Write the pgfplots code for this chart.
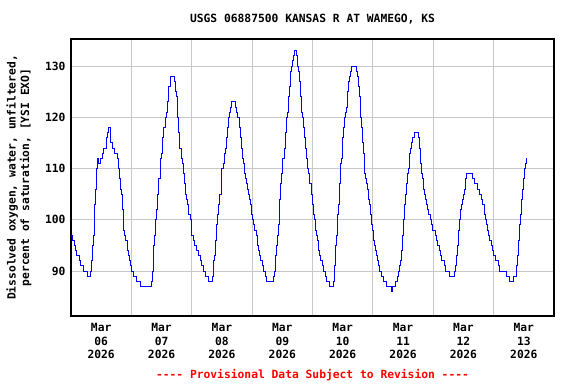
\documentclass[border=0pt]{standalone}
\usepackage{pgfplots}
\pgfplotsset{compat=1.18}
\usepackage{fontspec}
\setmainfont{DejaVu Sans Mono}
\definecolor{usgsblue}{RGB}{0,0,255}
\definecolor{gridgray}{RGB}{200,200,200}
\newcommand{\lbl}{\fontsize{11.3}{13.5}\selectfont\bfseries}
\begin{document}
\begin{tikzpicture}
\begin{axis}[
  name=ax,
  scale only axis,
  width=483pt, height=277pt,
  xmin=0, xmax=8,
  ymin=81.22, ymax=135.27,
  axis line style={black, line width=1.1pt},
  xtick={0.5,1.5,2.5,3.5,4.5,5.5,6.5,7.5},
  xticklabels={{Mar\\06\\2026},{Mar\\07\\2026},{Mar\\08\\2026},{Mar\\09\\2026},{Mar\\10\\2026},{Mar\\11\\2026},{Mar\\12\\2026},{Mar\\13\\2026}},
  minor xtick={1,2,3,4,5,6,7},
  xminorgrids=true,
  xmajorgrids=false,
  ytick={90,100,110,120,130},
  ymajorgrids=true,
  grid style={gridgray, line width=1pt},
  minor grid style={gridgray, line width=1pt},
  major tick length=0pt,
  minor tick length=0pt,
  /pgf/number format/assume math mode=true,
  xticklabel style={align=center, font=\lbl, yshift=-4pt},
  yticklabel style={font=\lbl, xshift=-2pt},
  clip=true,
]
\addplot[const plot, color=usgsblue, line width=1pt] table {
0.000 97
0.017 96
0.050 95
0.072 94
0.094 93
0.138 92
0.160 91
0.199 90
0.271 89
0.326 90
0.337 92
0.354 95
0.376 97
0.392 103
0.409 106
0.425 110
0.436 112
0.459 111
0.492 112
0.514 113
0.536 114
0.591 116
0.608 117
0.624 118
0.646 117
0.657 115
0.691 114
0.713 113
0.768 112
0.785 110
0.801 108
0.823 106
0.834 105
0.851 102
0.867 98
0.890 97
0.906 96
0.928 94
0.945 93
0.967 92
0.983 91
1.000 90
1.033 89
1.077 88
1.144 87
1.331 88
1.348 90
1.370 95
1.387 97
1.403 100
1.420 102
1.436 105
1.453 108
1.475 112
1.492 113
1.514 116
1.536 118
1.558 120
1.575 121
1.591 123
1.608 125
1.619 126
1.641 127
1.652 128
1.718 127
1.729 125
1.740 124
1.762 120
1.785 117
1.801 114
1.823 112
1.845 111
1.862 109
1.884 107
1.901 105
1.917 104
1.934 103
1.950 101
1.972 100
1.989 99
2.000 97
2.022 96
2.045 95
2.078 94
2.111 93
2.150 92
2.167 91
2.201 90
2.223 89
2.279 88
2.345 89
2.357 92
2.373 93
2.390 96
2.412 99
2.429 101
2.446 103
2.462 105
2.485 108
2.501 110
2.518 111
2.535 113
2.552 114
2.568 116
2.585 118
2.607 120
2.624 121
2.641 122
2.652 123
2.724 122
2.741 121
2.763 120
2.785 118
2.802 116
2.819 114
2.836 112
2.852 111
2.869 109
2.886 108
2.902 107
2.919 106
2.936 105
2.958 104
2.975 103
2.992 101
3.014 100
3.031 99
3.047 98
3.070 97
3.086 95
3.103 94
3.120 93
3.136 92
3.170 91
3.192 90
3.214 89
3.242 88
3.359 89
3.376 90
3.393 93
3.409 95
3.426 97
3.443 99
3.459 104
3.476 107
3.493 109
3.510 112
3.532 114
3.549 117
3.571 120
3.588 121
3.604 124
3.621 126
3.638 129
3.655 130
3.671 131
3.688 132
3.705 133
3.733 132
3.749 130
3.766 129
3.783 127
3.799 124
3.816 121
3.833 120
3.850 118
3.866 116
3.883 114
3.900 112
3.916 110
3.933 109
3.950 107
3.983 105
3.994 103
4.011 101
4.033 100
4.050 98
4.067 97
4.083 96
4.100 94
4.117 93
4.139 92
4.172 91
4.189 90
4.211 89
4.233 88
4.289 87
4.344 88
4.361 91
4.378 95
4.400 97
4.417 101
4.433 103
4.450 107
4.467 111
4.483 112
4.500 116
4.517 118
4.533 120
4.550 121
4.567 122
4.583 125
4.600 127
4.617 128
4.633 129
4.650 130
4.733 129
4.750 128
4.767 126
4.783 124
4.800 120
4.817 118
4.833 115
4.850 113
4.867 109
4.883 108
4.900 107
4.917 106
4.933 104
4.950 103
4.967 101
4.983 99
5.000 98
5.017 96
5.033 95
5.050 94
5.067 93
5.083 92
5.100 91
5.117 90
5.150 89
5.178 88
5.233 87
5.311 86
5.333 87
5.378 88
5.400 89
5.417 90
5.433 91
5.450 92
5.467 94
5.483 97
5.500 100
5.517 103
5.533 105
5.550 107
5.567 109
5.583 110
5.600 113
5.622 114
5.639 115
5.656 116
5.694 117
5.750 116
5.767 114
5.783 111
5.800 109
5.817 108
5.833 106
5.850 105
5.867 104
5.883 103
5.900 102
5.917 101
5.950 100
5.967 99
5.989 98
6.033 97
6.055 96
6.077 95
6.099 94
6.122 93
6.144 92
6.188 91
6.210 90
6.276 89
6.348 90
6.365 91
6.381 93
6.398 95
6.414 98
6.431 100
6.448 102
6.464 103
6.481 104
6.497 105
6.514 106
6.530 108
6.552 109
6.652 108
6.680 107
6.729 106
6.762 105
6.801 104
6.823 103
6.845 101
6.862 100
6.878 99
6.895 98
6.917 97
6.939 96
6.961 95
6.983 94
7.006 93
7.039 92
7.077 91
7.105 90
7.215 89
7.260 88
7.337 89
7.376 91
7.392 93
7.409 96
7.425 99
7.442 101
7.459 104
7.475 106
7.492 108
7.508 110
7.525 111
7.541 112
};
\end{axis}
\node[font=\lbl] at ([yshift=20pt]ax.north) {USGS 06887500 KANSAS R AT WAMEGO, KS};
\node[font=\lbl, rotate=90, align=center] at ([xshift=-52pt]ax.west) {Dissolved oxygen, water, unfiltered,\\percent of saturation, [YSI EXO]};
\node[font=\lbl, text=red] at ([yshift=-59pt]ax.south) {-{}-{}-{}- Provisional Data Subject to Revision -{}-{}-{}-};
\pgfresetboundingbox
\path[use as bounding box] ([xshift=-71pt,yshift=-68pt]ax.south west) rectangle ++(576pt,384pt);
\end{tikzpicture}
\end{document}
